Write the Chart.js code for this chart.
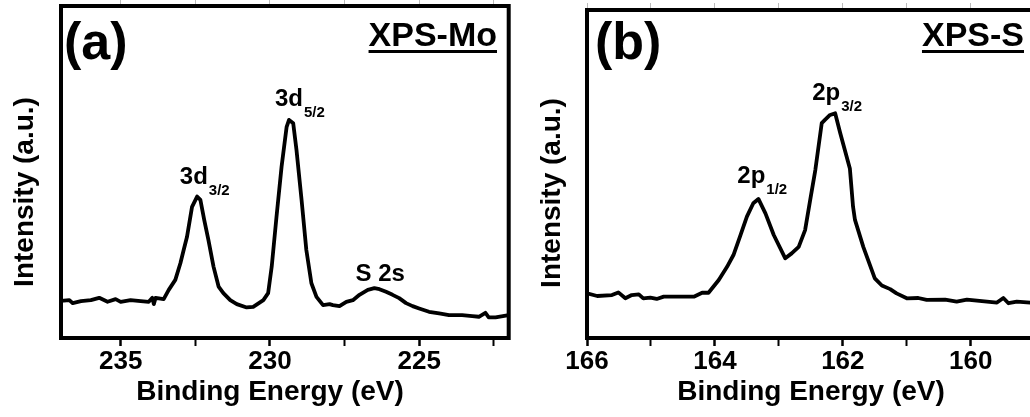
<!DOCTYPE html>
<html>
<head>
<meta charset="utf-8">
<script src="https://cdn.jsdelivr.net/npm/chart.js@4/dist/chart.umd.min.js"></script>
<style>
  html, body { margin: 0; padding: 0; background: #fff; overflow: hidden; }
  body { width: 1030px; height: 417px; position: relative; }
  canvas { position: absolute; top: 0; }
  #moChart { left: 0; }
  #sChart { left: 520px; }
</style>
</head>
<body>
<canvas id="moChart" width="520" height="417"></canvas>
<canvas id="sChart" width="540" height="417"></canvas>
<script>
// Mo 3d / S 2s region, binding energy (eV) and intensity (a.u.)
const energyMo = [237.00, 236.72, 236.61, 236.33, 236.00, 235.72, 235.44, 235.17, 235.00, 234.67,
  234.33, 234.06, 233.94, 233.89, 233.83, 233.56, 233.39, 233.17, 233.00, 232.89,
  232.78, 232.61, 232.44, 232.33, 232.20, 232.06, 231.89, 231.72, 231.56, 231.33,
  231.11, 230.78, 230.56, 230.22, 230.06, 229.94, 229.78, 229.61, 229.44, 229.36,
  229.22, 229.11, 228.94, 228.78, 228.61, 228.44, 228.22, 228.00, 227.89, 227.67,
  227.44, 227.22, 227.00, 226.72, 226.50, 226.33, 226.11, 225.89, 225.67, 225.44,
  225.22, 225.00, 224.67, 224.33, 224.00, 223.56, 223.22, 223.00, 222.78, 222.67,
  222.44, 222.00];
const countsMo = [11.2, 11.4, 10.5, 11.1, 11.4, 12.1, 10.9, 11.7, 10.9, 11.4,
  11.1, 10.9, 12.1, 10.2, 12.1, 11.7, 14.5, 17.5, 22.5, 26.5,
  30.4, 39.5, 42.6, 41.6, 35.5, 29.5, 21.5, 15.5, 13.5, 11.4,
  10.2, 9.2, 9.4, 11.4, 13.5, 21.5, 36.5, 51.6, 63.6, 65.7,
  64.7, 56.6, 41.6, 26.5, 16.5, 12.4, 9.9, 10.2, 9.9, 9.6,
  10.9, 11.4, 13.0, 14.5, 15.0, 14.7, 13.9, 13.0, 12.0, 10.5,
  9.6, 8.9, 7.9, 7.4, 6.9, 6.9, 6.6, 6.4, 7.6, 6.2,
  6.2, 6.9];
const majorTicksMo = [235, 230, 225];
const minorTicksMo = [232.5, 227.5, 222.5];
const peakNamesMo = ['3d', '3d', 'S 2s'];
const peakSubsMo = ['3/2', '5/2', ''];

// S 2p region
const energyS = [166.00, 165.84, 165.61, 165.51, 165.40, 165.30, 165.19, 165.12, 165.01, 164.91,
  164.80, 164.59, 164.33, 164.20, 164.10, 163.94, 163.81, 163.71, 163.60, 163.50,
  163.40, 163.32, 163.21, 163.08, 162.90, 162.80, 162.69, 162.59, 162.51, 162.43,
  162.33, 162.28, 162.20, 162.12, 162.04, 161.89, 161.84, 161.81, 161.68, 161.50,
  161.39, 161.26, 161.16, 161.00, 160.82, 160.69, 160.40, 160.22, 160.06, 159.59,
  159.49, 159.41, 159.28, 159.07, 159.00];
const countsS = [13.6, 12.8, 13.1, 13.9, 12.1, 13.1, 13.3, 12.1, 12.3, 11.9,
  12.6, 12.6, 12.6, 13.8, 13.8, 17.7, 21.7, 25.3, 31.4, 37.0,
  41.1, 42.4, 38.0, 31.4, 24.3, 25.8, 27.8, 32.9, 42.1, 51.2,
  65.5, 66.5, 68.0, 68.5, 62.4, 51.7, 40.0, 36.0, 27.8, 18.2,
  16.0, 14.9, 13.6, 12.1, 12.2, 11.6, 11.7, 11.1, 11.7, 10.8,
  12.2, 10.6, 11.1, 10.8, 10.9];
const majorTicksS = [166, 164, 162, 160];
const minorTicksS = [165, 163, 161, 159];
const peakNamesS = ['2p', '2p'];
const peakSubsS = ['1/2', '3/2'];

const FONT = '"Liberation Sans", Arial, Helvetica, sans-serif';

// frame, panel letter, underlined tag, peak labels and axis titles
const figureText = {
  id: 'figureText',
  afterDraw(chart, args, o) {
    const { ctx, chartArea: a, scales } = chart;
    ctx.save();
    ctx.strokeStyle = '#000';
    ctx.fillStyle = '#000';
    ctx.lineWidth = 4;
    ctx.strokeRect(a.left, a.top, a.right - a.left, a.bottom - a.top);

    ctx.textBaseline = 'alphabetic';
    ctx.textAlign = 'left';
    ctx.font = 'bold 52px ' + FONT;
    ctx.fillText(o.letter, o.letterX, o.letterY);

    ctx.font = 'bold 34px ' + FONT;
    const w = ctx.measureText(o.tag).width;
    ctx.fillText(o.tag, o.tagRight - w, o.tagY);
    ctx.fillRect(o.tagRight - w, o.tagY + 4, w, 3);

    o.peaks.forEach(p => {
      const x = scales.x.getPixelForValue(p.e);
      const y = scales.y.getPixelForValue(p.i);
      ctx.font = 'bold 24px ' + FONT;
      ctx.fillText(p.text, x, y);
      if (p.sub) {
        const mw = ctx.measureText(p.text).width;
        ctx.font = 'bold 15px ' + FONT;
        ctx.fillText(p.sub, x + mw + 1, y + 11);
      }
    });

    ctx.font = 'bold 28px ' + FONT;
    ctx.textAlign = 'center';
    ctx.fillText('Binding Energy (eV)', o.xTitleX, 400);
    ctx.translate(o.yTitleX, o.yTitleY);
    ctx.rotate(-Math.PI / 2);
    ctx.fillText('Intensity (a.u.)', 0, 0);
    ctx.restore();
  }
};

function makeChart(id, energy, counts, majors, minors, pad, yWidth, text) {
  const all = majors.concat(minors).sort((p, q) => p - q);
  const setTicks = s => { s.ticks = all.map(v => ({ value: v })); };
  return new Chart(document.getElementById(id), {
    type: 'line',
    data: {
      datasets: [{
        data: energy.map((e, k) => ({ x: e, y: counts[k] })),
        borderColor: '#000',
        borderWidth: 3.8,
        borderJoinStyle: 'round',
        pointRadius: 0,
        tension: 0
      }]
    },
    options: {
      responsive: false,
      animation: false,
      layout: { padding: pad },
      plugins: { legend: { display: false }, tooltip: { enabled: false }, figureText: text },
      scales: {
        x: {
          type: 'linear', reverse: true,
          min: Math.min(...energy), max: Math.max(...energy),
          afterBuildTicks: setTicks,
          afterFit: s => { s.height = 79; },
          border: { display: false },
          grid: {
            drawOnChartArea: false, tickLength: 8, tickColor: '#000',
            tickWidth: c => majors.includes(c.tick && c.tick.value) ? 2.5 : 2
          },
          ticks: {
            autoSkip: false, maxRotation: 0, padding: 0, color: '#000',
            font: { family: FONT, size: 26, weight: 'bold' },
            callback: v => majors.includes(v) ? String(v) : ''
          }
        },
        x2: {
          type: 'linear', position: 'top', reverse: true,
          min: Math.min(...energy), max: Math.max(...energy),
          afterBuildTicks: setTicks,
          afterFit: s => { s.height = 0; },
          border: { display: false },
          grid: { drawOnChartArea: false, tickLength: 7, tickColor: '#bbb', tickWidth: 1 },
          ticks: { display: false }
        },
        y: {
          min: 0, max: 100,
          afterFit: s => { s.width = yWidth; },
          border: { display: false },
          grid: { display: false },
          ticks: { display: false }
        }
      }
    },
    plugins: [figureText]
  });
}

makeChart('moChart', energyMo, countsMo, majorTicksMo, minorTicksMo,
  { left: 0, right: 11.3, top: 6, bottom: 0 }, 61, {
    letter: '(a)', letterX: 64, letterY: 59,
    tag: 'XPS-Mo', tagRight: 497, tagY: 46,
    xTitleX: 270, yTitleX: 33, yTitleY: 192,
    peaks: [
      { text: peakNamesMo[0], sub: peakSubsMo[0], e: 233.02, i: 46.4 },
      { text: peakNamesMo[1], sub: peakSubsMo[1], e: 229.83, i: 69.9 },
      { text: peakNamesMo[2], sub: peakSubsMo[2], e: 227.13, i: 17.2 }
    ]
  });

makeChart('sChart', energyS, countsS, majorTicksS, minorTicksS,
  { left: 0, right: 25.3, top: 10, bottom: 0 }, 67, {
    letter: '(b)', letterX: 75, letterY: 59,
    tag: 'XPS-S', tagRight: 504, tagY: 46,
    xTitleX: 291, yTitleX: 40, yTitleY: 193,
    peaks: [
      { text: peakNamesS[0], sub: peakSubsS[0], e: 163.65, i: 47.3 },
      { text: peakNamesS[1], sub: peakSubsS[1], e: 162.48, i: 72.6 }
    ]
  });
</script>
</body>
</html>
